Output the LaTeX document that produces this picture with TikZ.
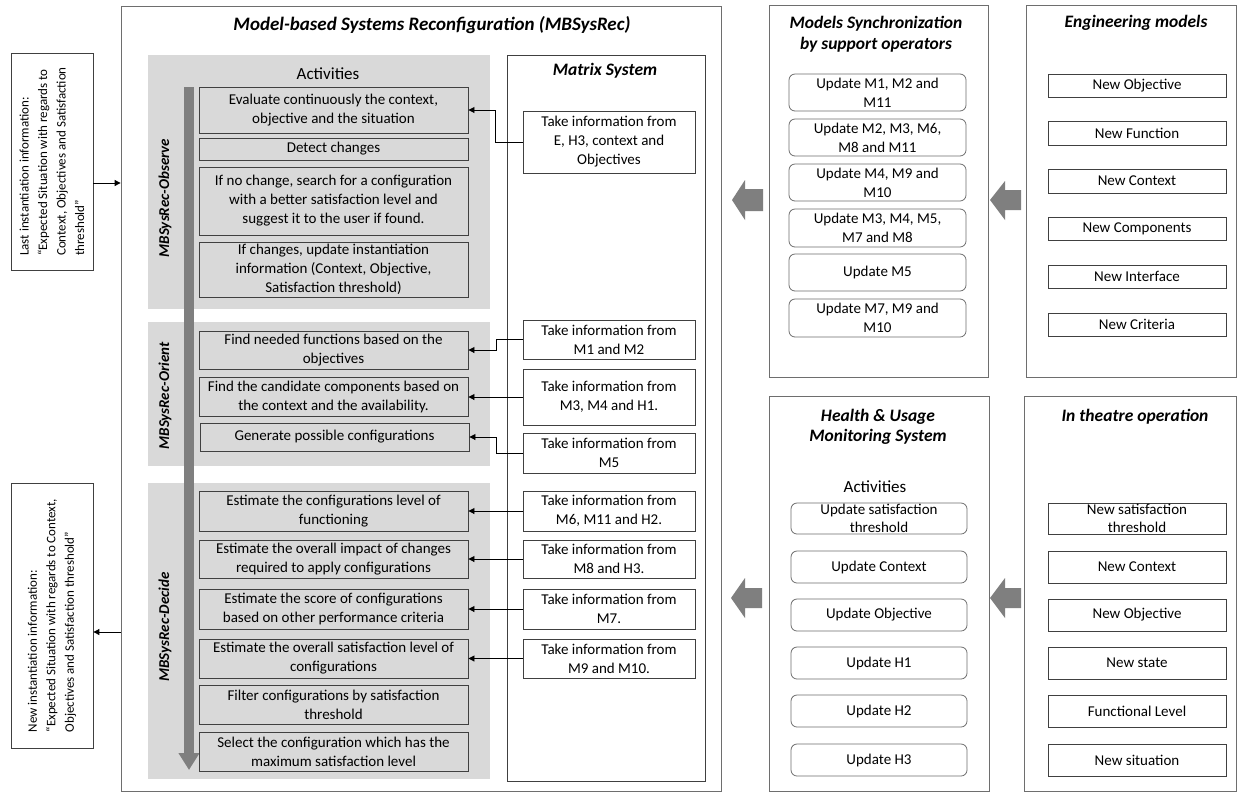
\documentclass[tikz,border=0pt]{standalone}
\usepackage{fontspec}
\setmainfont{Carlito}
\usetikzlibrary{arrows.meta}
\definecolor{panelgray}{HTML}{D9D9D9}
\definecolor{arrgray}{HTML}{7F7F7F}
\definecolor{edge}{HTML}{404040}
\definecolor{ledge}{HTML}{6E6E6E}
\newcommand\fsz[2]{\fontsize{#1}{#2}\selectfont}
\begin{document}
\begin{tikzpicture}[x=1pt,y=-1pt,
 frame/.style={draw=ledge, line width=0.8pt, fill=white, inner sep=0pt},
 panel/.style={fill=panelgray, inner sep=0pt},
 actbox/.style={draw=edge, line width=0.9pt, fill=panelgray, minimum width=269pt, inner xsep=2pt, inner ysep=0pt, align=center, font=\fsz{15}{19}},
 mbox/.style={draw=edge, line width=0.8pt, fill=white, minimum width=172pt, inner xsep=2pt, inner ysep=0pt, align=center, font=\fsz{15}{19}},
 ubox/.style={draw=ledge, line width=0.8pt, rounded corners=6pt, minimum width=177pt, inner ysep=0pt, align=center, font=\fsz{15}{19}},
 nbox/.style={draw=edge, line width=0.8pt, minimum width=178pt, inner ysep=0pt, align=center, font=\fsz{15}{19}},
 ttl/.style={font=\fsz{17.5}{21}\bfseries\itshape, align=center},
 side/.style={rotate=90, font=\fsz{15}{17}\bfseries\itshape},
 lbox/.style={draw=edge, line width=0.8pt, rotate=90, minimum height=82pt, inner sep=0pt, align=left, font=\fsz{13}{18.5}},
 conn/.style={draw=black, line width=0.9pt, -{Triangle[length=6pt,width=6pt]}},
 blk/.style={fill=arrgray},
]
\useasboundingbox (0,0) rectangle (1238,793);
\fill[white] (0,0) rectangle (1238,793);

% left instantiation boxes
\node[lbox, minimum width=217pt] (L1) at (52,161.5)
 {Last instantiation information:\\“Expected Situation with regards to\\Context, Objectives and Satisfaction\\threshold”};
\node[lbox, minimum width=265pt] (L2) at (52,615.5)
 {New instantiation information:\\“Expected Situation with regards to Context,\\Objectives and Satisfaction threshold”};

% main box
\node[frame, minimum width=600pt, minimum height=785pt] (main) at (421,398.5) {};
\node[font=\fsz{19}{22}\bfseries\itshape] (mtitle) at (432,25) {Model-based Systems Reconfiguration (MBSysRec)};

% panels
\node[panel, minimum width=342pt, minimum height=254pt] (obs) at (319,182) {};
\node[panel, minimum width=342pt, minimum height=144pt] (ori) at (319,394) {};
\node[panel, minimum width=342pt, minimum height=296pt] (dec) at (319,631) {};
\node[font=\fsz{17}{19}] (acts) at (328,74) {Activities};
\node[side] (sobs) at (165,198) {MBSysRec-Observe};
\node[side] (sori) at (165,396) {MBSysRec-Orient};
\node[side] (sdec) at (165,627) {MBSysRec-Decide};

% process arrow
\draw[arrgray, line width=10pt, -{Triangle[length=17pt,width=20pt]}] (189,87) -- (189,770);

% activity boxes
\node[actbox, minimum height=46pt] (E1) at (333.5,110) {Evaluate continuously the context,\\objective and the situation};
\node[actbox, minimum height=22pt] (E2) at (333.5,149) {Detect changes};
\node[actbox, minimum height=68pt] (E3) at (333.5,201) {If no change, search for a configuration\\with a better satisfaction level and\\suggest it to the user if found.};
\node[actbox, minimum height=55pt] (E4) at (333.5,269.5) {If changes, update instantiation\\information (Context, Objective,\\Satisfaction threshold)};
\node[actbox, minimum height=38pt] (O1) at (333.5,350) {Find needed functions based on the\\objectives};
\node[actbox, minimum height=39pt] (O2) at (333.5,396.5) {Find the candidate components based on\\the context and the availability.};
\node[actbox, minimum height=28pt] (O3) at (334.5,437) {Generate possible configurations};
\node[actbox, minimum height=40pt] (D1) at (333.5,511) {Estimate the configurations level of\\functioning};
\node[actbox, minimum height=38pt] (D2) at (333.5,559) {Estimate the overall impact of changes\\required to apply configurations};
\node[actbox, minimum height=40pt] (D3) at (333.5,609) {Estimate the score of configurations\\based on other performance criteria};
\node[actbox, minimum height=39pt] (D4) at (333.5,658.5) {Estimate the overall satisfaction level of\\configurations};
\node[actbox, minimum height=39pt] (D5) at (333.5,704.5) {Filter configurations by satisfaction\\threshold};
\node[actbox, minimum height=39pt] (D6) at (333.5,751.5) {Select the configuration which has the\\maximum satisfaction level};

% matrix system
\node[frame, draw=edge, minimum width=198pt, minimum height=726pt] (mat) at (606,418) {};
\node[ttl] (mattl) at (605,71) {Matrix System};
\node[mbox, minimum height=62pt] (T1) at (609,142) {Take information from\\E, H3, context and\\Objectives};
\node[mbox, minimum height=39pt] (T2) at (609,339.5) {Take information from\\M1 and M2};
\node[mbox, minimum height=56pt] (T3) at (609,397) {Take information from\\M3, M4 and H1.};
\node[mbox, minimum height=40pt] (T4) at (609,453) {Take information from\\M5};
\node[mbox, minimum height=40pt] (T5) at (609,511) {Take information from\\M6, M11 and H2.};
\node[mbox, minimum height=38pt] (T6) at (609,559) {Take information from\\M8 and H3.};
\node[mbox, minimum height=40pt] (T7) at (609,609) {Take information from\\M7.};
\node[mbox, minimum height=39pt] (T8) at (609,658.5) {Take information from\\M9 and M10.};

\draw[conn] (T1.west) -- ++(-27,0) |- (E1.east);
\draw[conn] (T2.west) -- ++(-26,0) |- (O1.east);
\draw[conn] (T3.west) -- (T3.west -| O2.east);
\draw[conn] (T4.west) -- ++(-26,0) |- (O3.east);
\draw[conn] (T5.west) -- (T5.west -| D1.east);
\draw[conn] (T6.west) -- (T6.west -| D2.east);
\draw[conn] (T7.west) -- (T7.west -| D3.east);
\draw[conn] (T8.west) -- (T8.west -| D4.east);

% instantiation arrows
\draw[conn] (L1.south |- 0,183) -- (main.west |- 0,183);
\draw[conn] (main.west |- 0,632) -- (L2.south |- 0,632);

% models synchronization
\node[frame, minimum width=219pt, minimum height=372pt] (sync) at (878.5,191) {};
\node[ttl] (synct) at (876,34) {Models Synchronization\\by support operators};
\node[ubox, minimum height=37pt] (U1) at (877.5,92.5) {Update M1, M2 and\\M11};
\node[ubox, minimum height=37pt] (U2) at (877.5,137.5) {Update M2, M3, M6,\\M8 and M11};
\node[ubox, minimum height=37pt] (U3) at (877.5,182.5) {Update M4, M9 and\\M10};
\node[ubox, minimum height=38pt] (U4) at (877.5,228) {Update M3, M4, M5,\\M7 and M8};
\node[ubox, minimum height=37pt] (U5) at (877.5,272.5) {Update M5};
\node[ubox, minimum height=38pt] (U6) at (877.5,318) {Update M7, M9 and\\M10};

% engineering models
\node[frame, minimum width=210pt, minimum height=372pt] (eng) at (1131,191) {};
\node[ttl] (engt) at (1136,23) {Engineering models};
\node[nbox, minimum height=23pt] (N1) at (1137,85.5) {New Objective};
\node[nbox, minimum height=24pt] (N2) at (1137,133) {New Function};
\node[nbox, minimum height=24pt] (N3) at (1137,181) {New Context};
\node[nbox, minimum height=23pt] (N4) at (1137,228.5) {New Components};
\node[nbox, minimum height=23pt] (N5) at (1137,276.5) {New Interface};
\node[nbox, minimum height=23pt] (N6) at (1137,324.5) {New Criteria};

% HUMS
\node[frame, minimum width=220pt, minimum height=395pt] (hums) at (879,593.5) {};
\node[ttl, font=\fsz{17.5}{20}\bfseries\itshape] (humst) at (878,427) {Health \& Usage\\Monitoring System};
\node[font=\fsz{17}{19}] (hact) at (875,487) {Activities};
\node[ubox, minimum width=176pt, minimum height=31pt, font=\fsz{15}{18}] (H1) at (879,518.5) {Update satisfaction\\threshold};
\node[ubox, minimum width=176pt, minimum height=32pt] (H2) at (879,567) {Update Context};
\node[ubox, minimum width=176pt, minimum height=32pt] (H3) at (879,615) {Update Objective};
\node[ubox, minimum width=176pt, minimum height=32pt] (H4) at (879,663) {Update H1};
\node[ubox, minimum width=176pt, minimum height=32pt] (H5) at (879,711) {Update H2};
\node[ubox, minimum width=176pt, minimum height=32pt] (H6) at (879,760) {Update H3};

% in theatre operation
\node[frame, minimum width=212pt, minimum height=395pt] (thea) at (1130,593.5) {};
\node[ttl] (theat) at (1135,417) {In theatre operation};
\node[nbox, minimum height=31pt, font=\fsz{15}{18}] (I1) at (1137,518.5) {New satisfaction\\threshold};
\node[nbox, minimum height=32pt] (I2) at (1137,567) {New Context};
\node[nbox, minimum height=32pt] (I3) at (1137,615) {New Objective};
\node[nbox, minimum height=32pt] (I4) at (1137,663) {New state};
\node[nbox, minimum height=32pt] (I5) at (1137,711) {Functional Level};
\node[nbox, minimum height=32pt] (I6) at (1137,760) {New situation};

% block arrows
\fill[blk] (763,189) -- (745,189) -- (745,180) -- (732,200) -- (745,220) -- (745,211) -- (763,211) -- cycle;
\fill[blk] (1021,190) -- (1005,190) -- (1005,181) -- (990,200) -- (1005,220) -- (1005,210) -- (1021,210) -- cycle;
\fill[blk] (762,588) -- (745,588) -- (745,578) -- (731,598) -- (745,618) -- (745,608) -- (762,608) -- cycle;
\fill[blk] (1021,588) -- (1005,588) -- (1005,578) -- (990,598) -- (1005,618) -- (1005,608) -- (1021,608) -- cycle;
\end{tikzpicture}
\end{document}
